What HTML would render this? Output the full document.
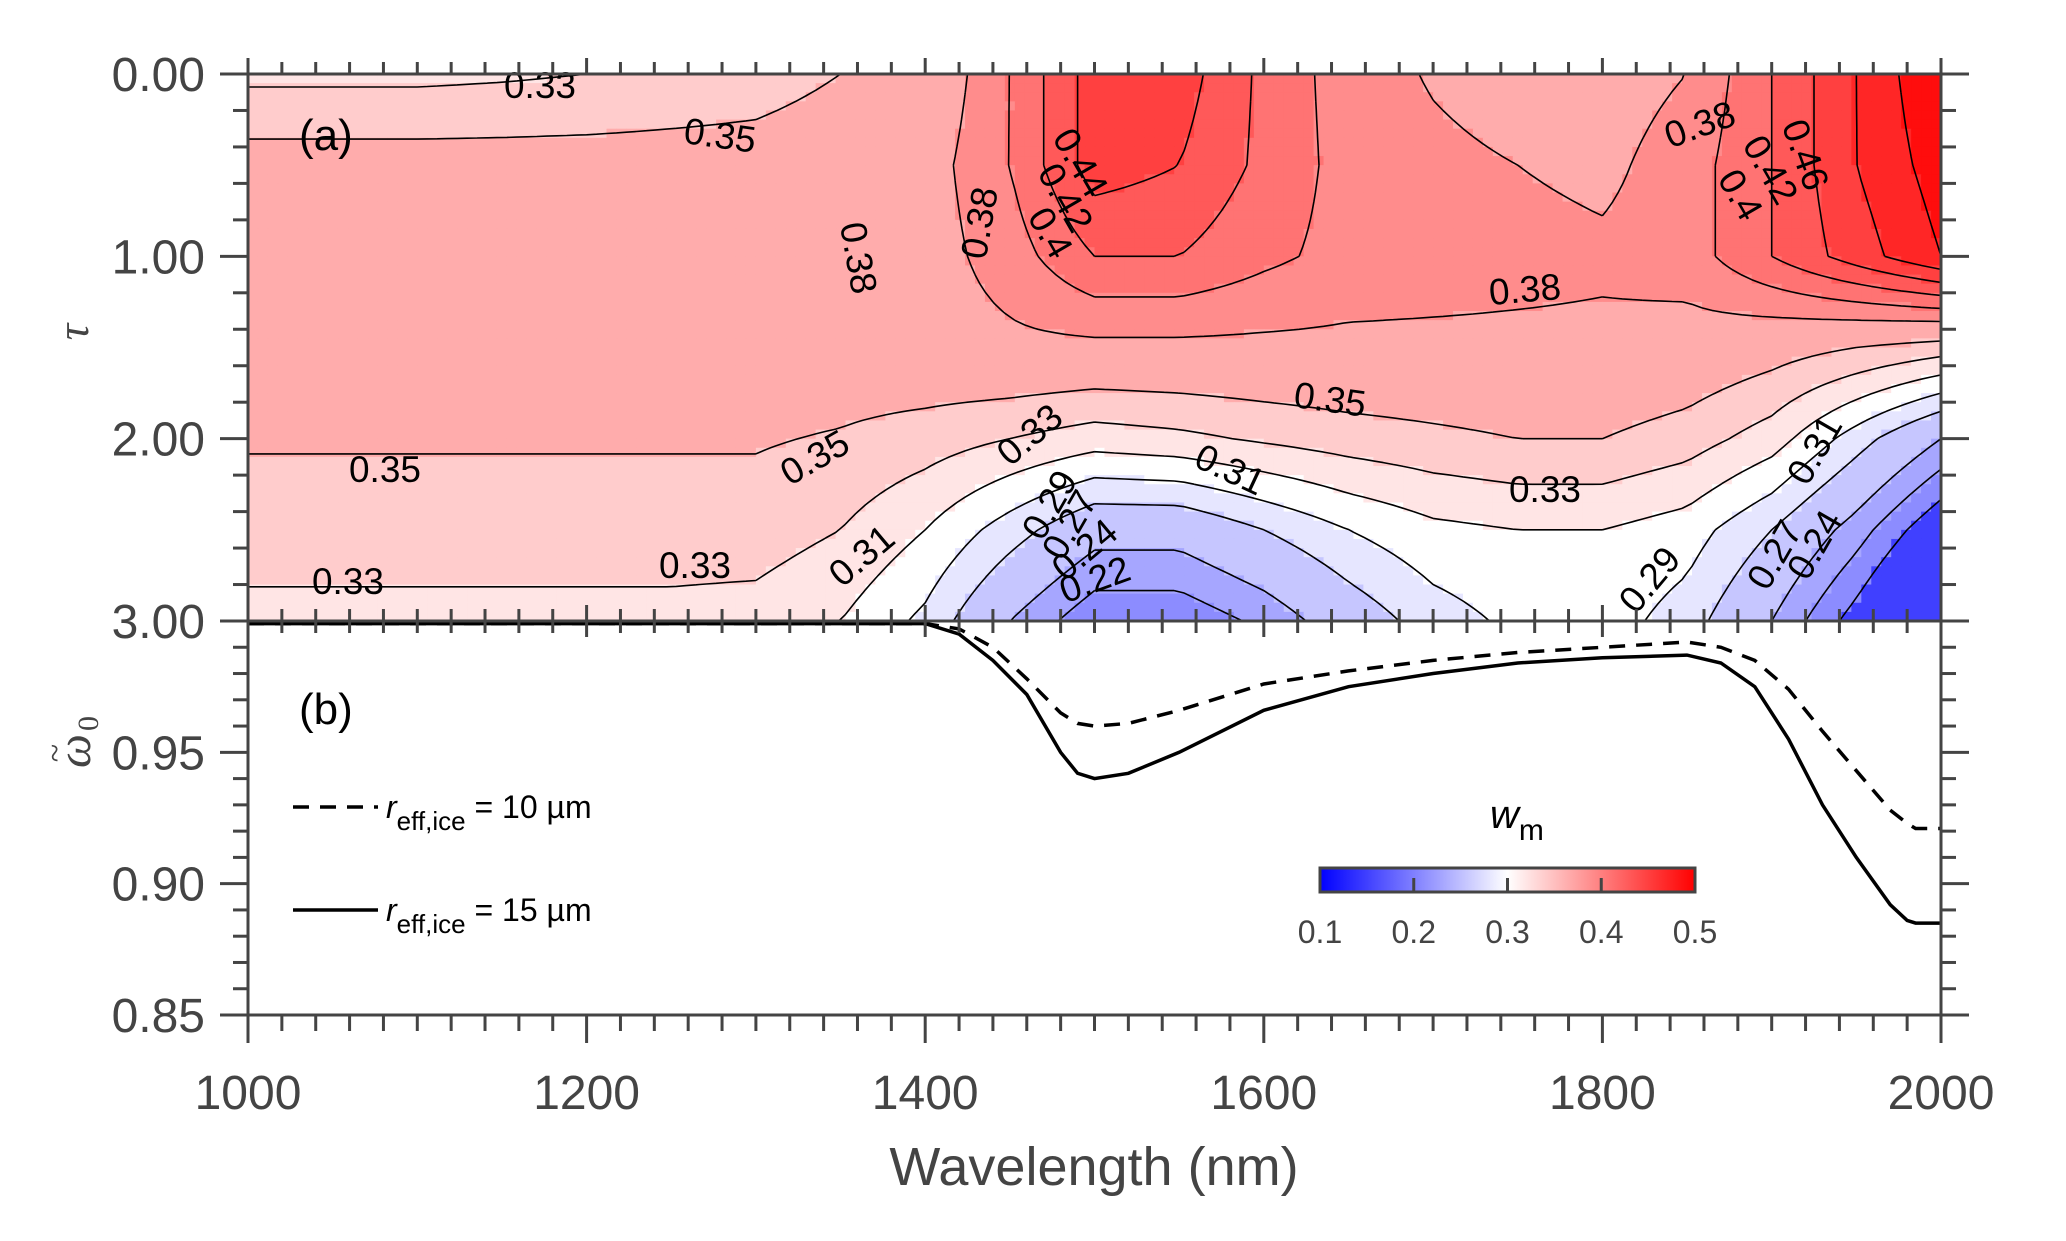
<!DOCTYPE html>
<html><head><meta charset="utf-8"><style>
html,body{margin:0;padding:0;background:#fff;}
svg{display:block;font-family:"Liberation Sans",Arial,sans-serif;}
</style></head><body>
<svg id="fig" width="2066" height="1241" viewBox="0 0 2066 1241">
<defs><clipPath id="clipA"><rect x="248" y="74" width="1693" height="547"/></clipPath>
<clipPath id="clipB"><rect x="248" y="621" width="1693" height="394"/></clipPath>
<linearGradient id="cbar" x1="0" x2="1" y1="0" y2="0"><stop offset="0" stop-color="#0000ff"/><stop offset="0.5" stop-color="#ffffff"/><stop offset="1" stop-color="#ff0000"/></linearGradient></defs>
<g id="heat" clip-path="url(#clipA)"></g>
<g id="cont" clip-path="url(#clipA)"></g>
<g id="clabels"></g>
<g id="curves" clip-path="url(#clipB)"></g>
<g id="axes"></g>
<text x="299" y="150" font-size="44" fill="#000">(a)</text>
<text x="299" y="724" font-size="44" fill="#000">(b)</text>
<text transform="translate(88,332) rotate(-90)" text-anchor="middle" font-size="46" fill="#444" font-family="Liberation Serif,serif" font-style="italic">τ</text>
<g transform="translate(90,745) rotate(-90)">
<text x="-6" y="0" text-anchor="middle" font-size="48" fill="#444" font-family="Liberation Serif,serif" font-style="italic">ω</text>
<text x="-8" y="-24" text-anchor="middle" font-size="34" fill="#444" font-family="Liberation Serif,serif">~</text>
<text x="14" y="8" font-size="30" fill="#444" font-family="Liberation Serif,serif">0</text>
</g>
<text x="1094" y="1185" text-anchor="middle" font-size="54" fill="#444">Wavelength (nm)</text>
<g>
<line x1="293" y1="807" x2="378" y2="807" stroke="#000" stroke-width="3.5" stroke-dasharray="16,11"/>
<text x="386" y="818" font-size="32" fill="#000"><tspan font-style="italic">r</tspan><tspan font-size="26" dy="12">eff,ice</tspan><tspan dy="-12"> = 10 µm</tspan></text>
<line x1="293" y1="910" x2="378" y2="910" stroke="#000" stroke-width="3.5"/>
<text x="386" y="921" font-size="32" fill="#000"><tspan font-style="italic">r</tspan><tspan font-size="26" dy="12">eff,ice</tspan><tspan dy="-12"> = 15 µm</tspan></text>
</g>
<g>
<text x="1490" y="828" font-size="40" font-style="italic" fill="#000">w<tspan font-style="normal" font-size="30" dy="12">m</tspan></text>
<rect x="1320" y="868" width="375" height="24" fill="url(#cbar)" stroke="#444" stroke-width="3"/>
<g id="cbticks"></g>
</g>
</svg>
<script>
const NS='http://www.w3.org/2000/svg';
// ---- data ----
const wlGrid=[1000,1050,1100,1150,1200,1250,1300,1350,1400,1450,1500,1550,1600,1650,1700,1750,1800,1850,1900,1950,2000];
const tauGrid=[0,0.5,1,1.5,2,2.5,3];
const wTau0  =[0.325,0.325,0.325,0.327,0.33,0.335,0.34,0.35,0.36,0.40,0.45,0.45,0.415,0.39,0.378,0.37,0.37,0.38,0.42,0.46,0.50];
const wTau05 =[0.36,0.36,0.36,0.36,0.36,0.36,0.36,0.365,0.37,0.40,0.45,0.44,0.415,0.392,0.385,0.38,0.375,0.39,0.42,0.46,0.49];
const wTau1  =[0.365,0.365,0.365,0.365,0.365,0.365,0.365,0.365,0.37,0.39,0.42,0.42,0.405,0.393,0.39,0.387,0.384,0.39,0.42,0.45,0.48];
const wTau15 =[0.365,0.365,0.365,0.365,0.365,0.365,0.365,0.365,0.37,0.375,0.375,0.375,0.375,0.375,0.375,0.375,0.375,0.37,0.36,0.35,0.34];
const wTau2  =[0.352,0.352,0.352,0.352,0.352,0.352,0.352,0.348,0.34,0.33,0.32,0.325,0.333,0.34,0.345,0.35,0.35,0.34,0.32,0.28,0.24];
const wTau25 =[0.34,0.34,0.34,0.34,0.34,0.34,0.34,0.33,0.31,0.28,0.25,0.25,0.27,0.29,0.305,0.31,0.31,0.30,0.27,0.23,0.18];
const wTau3  =[0.324,0.324,0.324,0.324,0.324,0.324,0.322,0.31,0.285,0.24,0.205,0.205,0.225,0.255,0.28,0.295,0.30,0.28,0.24,0.19,0.13];
const levels=[0.2,0.22,0.24,0.27,0.29,0.31,0.33,0.35,0.38,0.4,0.42,0.44,0.46,0.48];
const wlB=[1000,1100,1200,1300,1400,1420,1440,1460,1480,1490,1500,1520,1550,1600,1650,1700,1750,1800,1850,1870,1890,1910,1930,1950,1970,1980,1985,2000];
const om10=[0.999,0.999,0.999,0.999,0.999,0.997,0.990,0.978,0.965,0.961,0.960,0.961,0.966,0.976,0.981,0.985,0.988,0.990,0.992,0.990,0.985,0.974,0.958,0.943,0.928,0.923,0.921,0.921];
const om15=[0.999,0.999,0.999,0.999,0.999,0.995,0.985,0.972,0.950,0.942,0.940,0.942,0.950,0.966,0.975,0.980,0.984,0.986,0.987,0.984,0.975,0.955,0.930,0.910,0.892,0.886,0.885,0.885];
const cbTicks=[0.1,0.2,0.3,0.4,0.5];
const tauTicks=['0.00','1.00','2.00','3.00'];
const omTicks=['0.85','0.90','0.95'];
const xTicks=['1000','1200','1400','1600','1800','2000'];
const cLabels=[['0.33',540,98,0],['0.35',720,148,8],['0.35',385,482,0],['0.33',348,594,0],['0.33',695,578,0],['0.35',815,470,-30],['0.31',862,568,-40],['0.38',980,235,-80],['0.38',858,270,80],['0.4',1050,245,60],['0.42',1065,210,60],['0.44',1080,175,60],['0.38',1525,302,-5],['0.35',1330,412,8],['0.31',1230,482,25],['0.33',1545,502,0],['0.38',1700,137,-20],['0.33',1030,447,-40],['0.29',1050,517,-60],['0.27',1070,537,-60],['0.24',1085,562,-40],['0.22',1095,592,-20],['0.29',1650,592,-50],['0.31',1815,462,-60],['0.27',1775,567,-60],['0.24',1815,557,-60],['0.4',1740,207,60],['0.42',1770,182,60],['0.46',1805,167,70]];
// ---- scales ----
const X0=248,X1=1941,YA0=74,YA1=621,YB1=1015;
const xs=w=>X0+(w-1000)/1000*(X1-X0);
const ya=t=>YA0+t/3*(YA1-YA0);
const yb=o=>YA1+(1-o)/0.15*(YB1-YA1);
const rows=[wTau0,wTau05,wTau1,wTau15,wTau2,wTau25,wTau3];
function val(w,t){
  let i=Math.min(wlGrid.length-2,Math.max(0,Math.floor((w-1000)/50)));
  let j=Math.min(tauGrid.length-2,Math.max(0,Math.floor(t/0.5)));
  let fx=(w-wlGrid[i])/50,fy=(t-tauGrid[j])/0.5;
  fx=Math.max(0,Math.min(1,fx));fy=Math.max(0,Math.min(1,fy));
  return rows[j][i]*(1-fx)*(1-fy)+rows[j][i+1]*fx*(1-fy)+rows[j+1][i]*(1-fx)*fy+rows[j+1][i+1]*fx*fy;
}
function col(v){
  v=Math.max(0.1,Math.min(0.5,v));
  let r,g,b;
  if(v<0.3){const f=(v-0.1)/0.2;r=g=Math.round(255*f);b=255;}
  else{const f=(v-0.3)/0.2;r=255;g=b=Math.round(255*(1-f));}
  return `rgb(${r},${g},${b})`;
}
function band(v){
  let lo=0.1,hi=0.5;
  for(const l of levels){if(l<=v)lo=l;}
  for(let k=levels.length-1;k>=0;k--){if(levels[k]>v)hi=levels[k];}
  return (lo+hi)/2;
}
// ---- heat ----
const heat=document.getElementById('heat');
const NX=170,NY=60;
const dw=1000/NX,dt=3/NY;
const grid=[];
for(let j=0;j<=NY;j++){grid.push([]);for(let i=0;i<=NX;i++)grid[j].push(val(1000+i*dw,j*dt));}
for(let j=0;j<NY;j++)for(let i=0;i<NX;i++){
  const v=val(1000+(i+0.5)*dw,(j+0.5)*dt);
  const r=document.createElementNS(NS,'rect');
  r.setAttribute('x',xs(1000+i*dw));r.setAttribute('y',ya(j*dt));
  r.setAttribute('width',xs(1000+dw)-X0+0.6);r.setAttribute('height',ya(dt)-YA0+0.6);
  r.setAttribute('fill',col(band(v)));
  
  
  heat.appendChild(r);
}
// ---- contours (marching squares) ----
const cont=document.getElementById('cont');
for(const L of levels){
  let d='';
  for(let j=0;j<NY;j++)for(let i=0;i<NX;i++){
    const a=grid[j][i],b=grid[j][i+1],c=grid[j+1][i+1],e=grid[j+1][i];
    const pts=[];
    const px=(i2,j2)=>[xs(1000+i2*dw),ya(j2*dt)];
    const ed=(v1,v2,p1,p2)=>{if((v1<L)!==(v2<L)){const f=(L-v1)/(v2-v1);pts.push([p1[0]+f*(p2[0]-p1[0]),p1[1]+f*(p2[1]-p1[1])]);}};
    ed(a,b,px(i,j),px(i+1,j));ed(b,c,px(i+1,j),px(i+1,j+1));ed(c,e,px(i+1,j+1),px(i,j+1));ed(e,a,px(i,j+1),px(i,j));
    for(let k=0;k+1<pts.length;k+=2)d+=`M${pts[k][0].toFixed(1)},${pts[k][1].toFixed(1)}L${pts[k+1][0].toFixed(1)},${pts[k+1][1].toFixed(1)}`;
  }
  const p=document.createElementNS(NS,'path');
  p.setAttribute('d',d);p.setAttribute('stroke','#000');p.setAttribute('stroke-width','1.6');p.setAttribute('fill','none');
  
  
  cont.appendChild(p);
}
const cl=document.getElementById('clabels');
for(const [t,x,y,rot] of cLabels){
  const tx=document.createElementNS(NS,'text');
  tx.setAttribute('x',x);tx.setAttribute('y',y);tx.setAttribute('font-size','37');tx.setAttribute('text-anchor','middle');
  tx.setAttribute('transform',`rotate(${rot},${x},${y-12})`);tx.textContent=t;
  
  
  cl.appendChild(tx);
}
// ---- curves ----
const cv=document.getElementById('curves');
function line(arr,dash,name){
  const p=document.createElementNS(NS,'path');
  p.setAttribute('d',wlB.map((w,k)=>(k?'L':'M')+xs(w).toFixed(1)+','+yb(arr[k]).toFixed(1)).join(''));
  p.setAttribute('stroke','#000');p.setAttribute('stroke-width','3.5');p.setAttribute('fill','none');
  if(dash)p.setAttribute('stroke-dasharray','16,11');
  
  
  cv.appendChild(p);
}
line(om10,true,'curve-reff-10um');line(om15,false,'curve-reff-15um');
// ---- axes ----
const ax=document.getElementById('axes');
function L(x1,y1,x2,y2,w){const l=document.createElementNS(NS,'line');l.setAttribute('x1',x1);l.setAttribute('y1',y1);l.setAttribute('x2',x2);l.setAttribute('y2',y2);l.setAttribute('stroke','#444');l.setAttribute('stroke-width',w||3);ax.appendChild(l);return l;}
function T(x,y,s,anchor,fs){const t=document.createElementNS(NS,'text');t.setAttribute('x',x);t.setAttribute('y',y);t.setAttribute('text-anchor',anchor);t.setAttribute('font-size',fs||48);t.setAttribute('fill','#444');t.textContent=s;ax.appendChild(t);}
L(X0,YA0,X1,YA0);L(X0,YA1,X1,YA1);L(X0,YB1,X1,YB1);
L(X0,YA0-16,X0,YB1+28);L(X1,YA0-16,X1,YB1+28);
for(let w=1000;w<=2000;w+=20){
  const x=xs(w),maj=(w%200===0);
  L(x,YA0,x,YA0-(maj?16:12));
  L(x,YA1,x,YA1-(maj?16:12));L(x,YA1,x,YA1+(maj?16:12));
  L(x,YB1,x,YB1+(maj?28:16));
}
for(let t=0;t<=3.001;t+=0.2){const y=ya(t),maj=Math.abs(t-Math.round(t))<0.01;L(X0-(maj?28:15),y,X0,y);L(X1,y,X1+(maj?28:15),y);}
for(let o=0.85;o<1.0001;o+=0.01){const y=yb(o),maj=Math.abs(o*20-Math.round(o*20))<0.01;L(X0-(maj?28:15),y,X0,y);L(X1,y,X1+(maj?28:15),y);}
tauTicks.forEach(s=>T(205,ya(parseFloat(s))+17,s,'end'));
omTicks.forEach(s=>T(205,yb(parseFloat(s))+17,s,'end'));
xTicks.forEach(s=>T(xs(parseFloat(s)),1109,s,'middle'));
const cb=document.getElementById('cbticks');
cbTicks.forEach(v=>{const x=1320+(v-0.1)/0.4*375;
  if(v>0.1&&v<0.5){const l=document.createElementNS(NS,'line');l.setAttribute('x1',x);l.setAttribute('x2',x);l.setAttribute('y1',878);l.setAttribute('y2',891);l.setAttribute('stroke','#444');l.setAttribute('stroke-width',3);cb.appendChild(l);}
  const t=document.createElementNS(NS,'text');t.setAttribute('x',x);t.setAttribute('y',943);t.setAttribute('text-anchor','middle');t.setAttribute('font-size','32');t.setAttribute('fill','#444');t.textContent=v.toFixed(1);
  
  
  cb.appendChild(t);});
</script>
</body></html>
